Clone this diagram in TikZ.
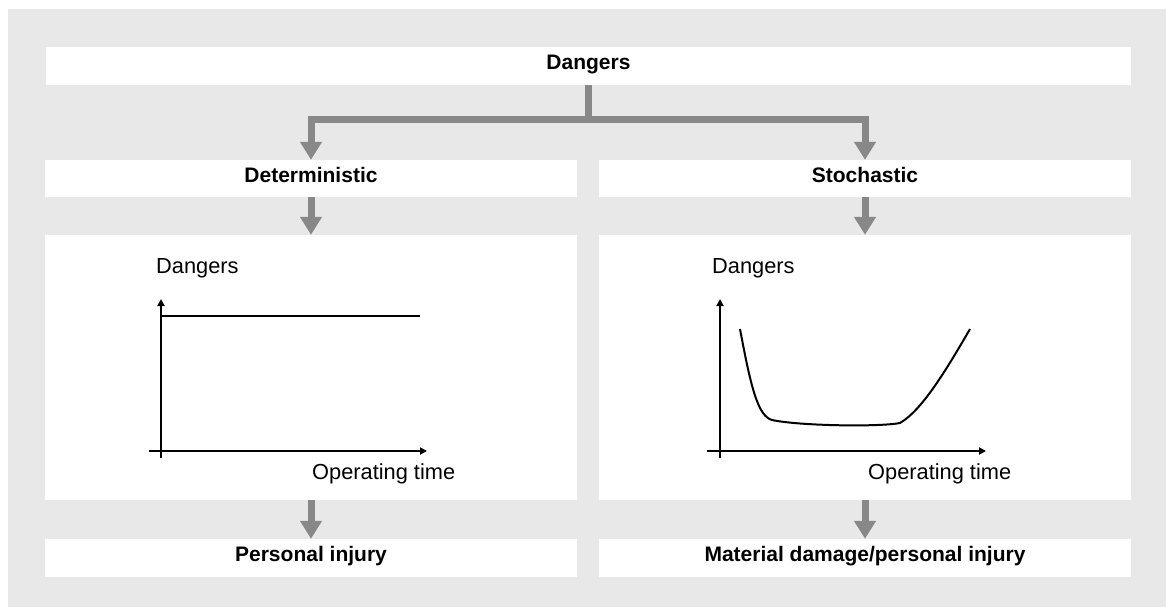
\documentclass[tikz,border=0pt]{standalone}
\usepackage{fontspec}
\setmainfont{Liberation Sans}
\usetikzlibrary{arrows.meta}
\definecolor{bggray}{RGB}{232,232,232}
\definecolor{arrgray}{RGB}{136,136,136}
\tikzset{
  box/.style={fill=white, draw=none, inner sep=0pt, font=\fontsize{21}{24}\selectfont\bfseries, text height=0.72em, text depth=0pt},
  graphbox/.style={fill=white, draw=none, inner sep=0pt},
  flow/.style={draw=arrgray, line width=7pt, line join=miter, -{Triangle[width=21pt,length=18pt]}},
  bar/.style={draw=arrgray, line width=7pt, line join=miter},
  axis/.style={line width=2pt, -{Triangle[width=7pt,length=7pt]}},
  curve/.style={line width=2pt},
  lbl/.style={font=\fontsize{21.8}{24}\selectfont, inner sep=0pt}
}
\begin{document}
\begin{tikzpicture}[x=1pt,y=-1pt]
\useasboundingbox (0,0) rectangle (1166,607);
\fill[bggray] (8,9) rectangle (1166,607);

\node[box, minimum width=1085pt, minimum height=38pt] (dangers) at (588.5,66) {Dangers};
\node[box, minimum width=532pt, minimum height=37pt] (det) at (311,178.5) {Deterministic};
\node[box, minimum width=532pt, minimum height=37pt] (sto) at (865,178.5) {Stochastic};
\node[graphbox, minimum width=532pt, minimum height=265pt] (gdet) at (311,367.5) {};
\node[graphbox, minimum width=532pt, minimum height=265pt] (gsto) at (865,367.5) {};
\node[box, minimum width=532pt, minimum height=38pt] (pi) at (311,558) {Personal injury};
\node[box, minimum width=532pt, minimum height=38pt] (md) at (865,558) {Material damage/personal injury};

\coordinate (split) at (588.5,120);
\draw[bar] (dangers.south) -- (split);
\draw[flow] (split) -| (det.north);
\draw[flow] (split) -| (sto.north);
\draw[flow] (det.south) -- (gdet.north);
\draw[flow] (sto.south) -- (gsto.north);
\draw[flow] (gdet.south) -- (pi.north);
\draw[flow] (gsto.south) -- (md.north);

% left graph
\node[lbl, anchor=base west] (ldan) at (156,273) {Dangers};
\node[lbl, anchor=base west] (lop) at (312,479) {Operating time};
\draw[axis] (161,458) -- (161,299);
\draw[axis] (149,451) -- (427,451);
\draw[curve] (161,316) -- (420,316);

% right graph
\node[lbl, anchor=base west] (rdan) at (712,273) {Dangers};
\node[lbl, anchor=base west] (rop) at (868,479) {Operating time};
\draw[axis] (720,458) -- (720,299);
\draw[axis] (707,451) -- (986,451);
\draw[curve] (740,329) .. controls (751,388) and (758,416) .. (772,420)
  .. controls (800,426) and (880,427) .. (900,423)
  .. controls (922,410) and (945,372) .. (970,329);
\end{tikzpicture}
\end{document}
